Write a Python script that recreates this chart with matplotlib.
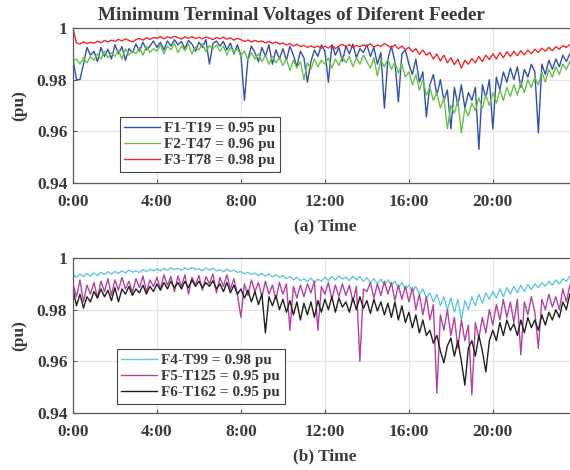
import numpy as np
import matplotlib
matplotlib.use('Agg')
import matplotlib.pyplot as plt

plt.rcParams['font.family'] = ['Liberation Serif', 'DejaVu Serif']
plt.rcParams['font.weight'] = 'bold'

# ── data: 10-min samples ───────────────────────────────────────────────────────
hours = np.arange(144) / 6.0

f1_t19 = [
    0.9880, 0.9800, 0.9800, 0.9860, 0.9925, 0.9895,
    0.9910, 0.9870, 0.9925, 0.9890, 0.9918, 0.9880,
    0.9935, 0.9900, 0.9928, 0.9875, 0.9920, 0.9905,
    0.9938, 0.9910, 0.9945, 0.9915, 0.9930, 0.9950,
    0.9925, 0.9945, 0.9915, 0.9950, 0.9930, 0.9955,
    0.9935, 0.9948, 0.9920, 0.9952, 0.9938, 0.9910,
    0.9945, 0.9925, 0.9955, 0.9860, 0.9940, 0.9950,
    0.9930, 0.9948, 0.9915, 0.9942, 0.9900, 0.9935,
    0.9895, 0.9720, 0.9880, 0.9930, 0.9905, 0.9870,
    0.9925, 0.9890, 0.9935, 0.9860, 0.9915, 0.9880,
    0.9920, 0.9875, 0.9930, 0.9895, 0.9850, 0.9910,
    0.9885, 0.9790, 0.9870, 0.9915, 0.9890, 0.9935,
    0.9910, 0.9790, 0.9935, 0.9895, 0.9925, 0.9870,
    0.9930, 0.9900, 0.9938, 0.9885, 0.9920, 0.9905,
    0.9935, 0.9890, 0.9925, 0.9860, 0.9905, 0.9690,
    0.9880, 0.9930, 0.9870, 0.9714, 0.9900, 0.9915,
    0.9860, 0.9820, 0.9880, 0.9790, 0.9830, 0.9656,
    0.9780, 0.9820, 0.9740, 0.9800, 0.9720, 0.9760,
    0.9610, 0.9770, 0.9700, 0.9780, 0.9690, 0.9750,
    0.9720, 0.9770, 0.9530, 0.9780, 0.9730, 0.9800,
    0.9610, 0.9810, 0.9760, 0.9830, 0.9790, 0.9845,
    0.9800, 0.9850, 0.9770, 0.9840, 0.9810, 0.9860,
    0.9830, 0.9594, 0.9860, 0.9820, 0.9875, 0.9840,
    0.9880, 0.9850, 0.9895, 0.9870, 0.9900, 0.9910,
]

f2_t47 = [
    0.9870, 0.9880, 0.9860, 0.9885, 0.9865, 0.9890,
    0.9875, 0.9900, 0.9880, 0.9910, 0.9885, 0.9905,
    0.9890, 0.9915, 0.9880, 0.9920, 0.9895, 0.9912,
    0.9900, 0.9925, 0.9895, 0.9930, 0.9905, 0.9920,
    0.9910, 0.9935, 0.9900, 0.9930, 0.9915, 0.9940,
    0.9905, 0.9930, 0.9912, 0.9938, 0.9900, 0.9928,
    0.9915, 0.9940, 0.9908, 0.9932, 0.9918, 0.9935,
    0.9910, 0.9930, 0.9895, 0.9925, 0.9905, 0.9920,
    0.9890, 0.9912, 0.9875, 0.9905, 0.9880, 0.9900,
    0.9870, 0.9895, 0.9860, 0.9890, 0.9865, 0.9885,
    0.9855, 0.9880, 0.9835, 0.9875, 0.9845, 0.9870,
    0.9800, 0.9865, 0.9840, 0.9880, 0.9850, 0.9875,
    0.9860, 0.9885, 0.9845, 0.9880, 0.9855, 0.9890,
    0.9865, 0.9890, 0.9850, 0.9885, 0.9860, 0.9895,
    0.9870, 0.9845, 0.9885, 0.9815, 0.9875, 0.9850,
    0.9880, 0.9840, 0.9870, 0.9825, 0.9860, 0.9810,
    0.9830, 0.9780, 0.9820, 0.9760, 0.9800, 0.9740,
    0.9770, 0.9720, 0.9750, 0.9690, 0.9730, 0.9610,
    0.9700, 0.9670, 0.9720, 0.9594, 0.9690, 0.9660,
    0.9710, 0.9680, 0.9730, 0.9690, 0.9740, 0.9700,
    0.9750, 0.9710, 0.9760, 0.9720, 0.9770, 0.9735,
    0.9780, 0.9740, 0.9790, 0.9750, 0.9800, 0.9770,
    0.9810, 0.9780, 0.9830, 0.9790, 0.9840, 0.9810,
    0.9850, 0.9820, 0.9860, 0.9840, 0.9870, 0.9880,
]

f3_t78 = [
    1.0000, 0.9942, 0.9938, 0.9947, 0.9940, 0.9945,
    0.9941, 0.9949, 0.9943, 0.9952, 0.9946, 0.9953,
    0.9948, 0.9956, 0.9950, 0.9958, 0.9952, 0.9946,
    0.9955, 0.9960, 0.9953, 0.9962, 0.9956, 0.9963,
    0.9960, 0.9967, 0.9958, 0.9966, 0.9961, 0.9968,
    0.9963, 0.9957, 0.9966, 0.9960, 0.9967, 0.9959,
    0.9964, 0.9958, 0.9965, 0.9961, 0.9955, 0.9963,
    0.9958, 0.9965, 0.9957, 0.9962, 0.9953, 0.9960,
    0.9955, 0.9948, 0.9954, 0.9946, 0.9952, 0.9947,
    0.9950, 0.9942, 0.9948, 0.9940, 0.9946, 0.9938,
    0.9942, 0.9934, 0.9940, 0.9930, 0.9937, 0.9928,
    0.9933, 0.9925, 0.9931, 0.9924, 0.9930, 0.9922,
    0.9930, 0.9922, 0.9934, 0.9920, 0.9931, 0.9937,
    0.9928, 0.9936, 0.9924, 0.9933, 0.9927, 0.9935,
    0.9930, 0.9939, 0.9926, 0.9934, 0.9928, 0.9940,
    0.9932, 0.9924, 0.9935, 0.9920, 0.9930, 0.9916,
    0.9925, 0.9908, 0.9920, 0.9898, 0.9915, 0.9895,
    0.9905, 0.9880, 0.9900, 0.9872, 0.9895, 0.9865,
    0.9885, 0.9858, 0.9880, 0.9845, 0.9875, 0.9860,
    0.9882, 0.9865, 0.9890, 0.9870, 0.9895, 0.9878,
    0.9900, 0.9880, 0.9905, 0.9885, 0.9908, 0.9890,
    0.9910, 0.9893, 0.9912, 0.9896, 0.9915, 0.9900,
    0.9918, 0.9905, 0.9922, 0.9910, 0.9925, 0.9912,
    0.9928, 0.9918, 0.9932, 0.9925, 0.9936, 0.9940,
]

f4_t99 = [
    0.9935, 0.9925, 0.9938, 0.9928, 0.9940, 0.9930,
    0.9942, 0.9932, 0.9945, 0.9935, 0.9947, 0.9938,
    0.9948, 0.9940, 0.9950, 0.9942, 0.9953, 0.9945,
    0.9950, 0.9944, 0.9955, 0.9947, 0.9957, 0.9950,
    0.9958, 0.9950, 0.9960, 0.9952, 0.9962, 0.9955,
    0.9960, 0.9953, 0.9962, 0.9955, 0.9963, 0.9956,
    0.9958, 0.9951, 0.9961, 0.9953, 0.9960, 0.9950,
    0.9955, 0.9947, 0.9957, 0.9948, 0.9953, 0.9944,
    0.9948, 0.9938, 0.9945, 0.9935, 0.9942, 0.9932,
    0.9940, 0.9930, 0.9938, 0.9927, 0.9935, 0.9925,
    0.9932, 0.9920, 0.9928, 0.9915, 0.9925, 0.9912,
    0.9920, 0.9908, 0.9922, 0.9905, 0.9918, 0.9910,
    0.9925, 0.9912, 0.9928, 0.9915, 0.9930, 0.9918,
    0.9926, 0.9912, 0.9930, 0.9915, 0.9928, 0.9910,
    0.9924, 0.9905, 0.9920, 0.9900, 0.9918, 0.9895,
    0.9915, 0.9895, 0.9910, 0.9885, 0.9905, 0.9880,
    0.9895, 0.9870, 0.9890, 0.9860, 0.9880, 0.9845,
    0.9865, 0.9830, 0.9860, 0.9815, 0.9850, 0.9800,
    0.9845, 0.9790, 0.9840, 0.9760, 0.9835, 0.9800,
    0.9850, 0.9815, 0.9860, 0.9825, 0.9865, 0.9840,
    0.9870, 0.9845, 0.9880, 0.9850, 0.9885, 0.9860,
    0.9890, 0.9865, 0.9895, 0.9870, 0.9898, 0.9878,
    0.9900, 0.9885, 0.9905, 0.9890, 0.9910, 0.9895,
    0.9915, 0.9900, 0.9920, 0.9910, 0.9930, 0.9935,
]

f5_t125 = [
    0.9900, 0.9850, 0.9915, 0.9830, 0.9895, 0.9860,
    0.9905, 0.9845, 0.9910, 0.9870, 0.9920, 0.9855,
    0.9915, 0.9875, 0.9925, 0.9880, 0.9910, 0.9865,
    0.9920, 0.9885, 0.9930, 0.9870, 0.9915, 0.9890,
    0.9925, 0.9880, 0.9935, 0.9895, 0.9928, 0.9870,
    0.9930, 0.9890, 0.9935, 0.9860, 0.9925, 0.9895,
    0.9932, 0.9875, 0.9928, 0.9900, 0.9938, 0.9865,
    0.9925, 0.9890, 0.9935, 0.9880, 0.9920, 0.9860,
    0.9770, 0.9900, 0.9855, 0.9915, 0.9870, 0.9905,
    0.9850, 0.9910, 0.9860, 0.9895, 0.9840, 0.9905,
    0.9860, 0.9900, 0.9720, 0.9890, 0.9845, 0.9895,
    0.9850, 0.9900, 0.9865, 0.9910, 0.9720, 0.9890,
    0.9860, 0.9905, 0.9840, 0.9895, 0.9850, 0.9900,
    0.9855, 0.9895, 0.9830, 0.9890, 0.9600, 0.9880,
    0.9870, 0.9905, 0.9845, 0.9900, 0.9855, 0.9910,
    0.9860, 0.9905, 0.9835, 0.9895, 0.9840, 0.9890,
    0.9830, 0.9885, 0.9800, 0.9860, 0.9780, 0.9850,
    0.9760, 0.9820, 0.9477, 0.9780, 0.9720, 0.9800,
    0.9700, 0.9770, 0.9650, 0.9760, 0.9680, 0.9740,
    0.9470, 0.9750, 0.9690, 0.9770, 0.9710, 0.9800,
    0.9740, 0.9820, 0.9760, 0.9840, 0.9770, 0.9830,
    0.9750, 0.9840, 0.9625, 0.9830, 0.9780, 0.9850,
    0.9790, 0.9650, 0.9840, 0.9800, 0.9860, 0.9810,
    0.9850, 0.9800, 0.9880, 0.9830, 0.9895, 0.9910,
]

f6_t162 = [
    0.9880, 0.9815, 0.9860, 0.9806, 0.9850, 0.9830,
    0.9870, 0.9845, 0.9880, 0.9850, 0.9875, 0.9835,
    0.9885, 0.9830, 0.9880, 0.9860, 0.9890, 0.9855,
    0.9880, 0.9865, 0.9895, 0.9860, 0.9890, 0.9870,
    0.9900, 0.9875, 0.9905, 0.9880, 0.9910, 0.9885,
    0.9905, 0.9880, 0.9910, 0.9885, 0.9915, 0.9890,
    0.9910, 0.9885, 0.9905, 0.9890, 0.9912, 0.9880,
    0.9900, 0.9870, 0.9905, 0.9865, 0.9895, 0.9860,
    0.9880, 0.9845, 0.9875, 0.9830, 0.9870, 0.9820,
    0.9860, 0.9710, 0.9850, 0.9815, 0.9855, 0.9800,
    0.9840, 0.9790, 0.9835, 0.9780, 0.9830, 0.9760,
    0.9825, 0.9780, 0.9830, 0.9770, 0.9835, 0.9790,
    0.9840, 0.9800, 0.9850, 0.9790, 0.9845, 0.9810,
    0.9830, 0.9790, 0.9845, 0.9800, 0.9850, 0.9805,
    0.9835, 0.9785, 0.9840, 0.9795, 0.9830, 0.9780,
    0.9825, 0.9770, 0.9830, 0.9760, 0.9815, 0.9750,
    0.9790, 0.9730, 0.9780, 0.9710, 0.9760, 0.9700,
    0.9720, 0.9670, 0.9700, 0.9640, 0.9594, 0.9660,
    0.9690, 0.9620, 0.9680, 0.9600, 0.9508, 0.9650,
    0.9680, 0.9620, 0.9700, 0.9640, 0.9559, 0.9680,
    0.9720, 0.9680, 0.9750, 0.9700, 0.9760, 0.9720,
    0.9745, 0.9700, 0.9760, 0.9710, 0.9770, 0.9730,
    0.9760, 0.9720, 0.9780, 0.9740, 0.9790, 0.9760,
    0.9800, 0.9770, 0.9830, 0.9800, 0.9860, 0.9880,
]

labels_a = ['F1-T19 = 0.95 pu', 'F2-T47 = 0.96 pu', 'F3-T78 = 0.98 pu']
labels_b = ['F4-T99 = 0.98 pu', 'F5-T125 = 0.95 pu', 'F6-T162 = 0.95 pu']
colors_a = ['#3352a6', '#6cbf4a', '#f0282a']
colors_b = ['#64c8da', '#b0449e', '#231f20']

xticks = [0, 4, 8, 12, 16, 20]
xticklabels = ['0:00', '4:00', '8:00', '12:00', '16:00', '20:00']
yticks = [0.94, 0.96, 0.98, 1.0]
yticklabels = ['0.94', '0.96', '0.98', '1']

TXT = '#3a3a3a'
AX = '#5a5a5a'

fig = plt.figure(figsize=(5.7, 4.7), dpi=100)
ax_a = fig.add_axes([0.128, 0.6106, 0.884, 0.3298])
ax_b = fig.add_axes([0.128, 0.1213, 0.884, 0.3298])


def style(ax, xlabel):
    ax.set_xlim(0, 24)
    ax.set_ylim(0.94, 1.0)
    ax.set_xticks(xticks)
    ax.set_xticklabels(xticklabels)
    ax.set_yticks(yticks)
    ax.set_yticklabels(yticklabels)
    ax.tick_params(direction='in', length=3, width=0.8, colors=AX,
                   labelcolor=TXT, labelsize=12.5)
    ax.tick_params(axis='x', pad=8)
    ax.tick_params(axis='y', pad=4)
    ax.grid(True, color='#e3e3e3', lw=0.8)
    ax.set_axisbelow(True)
    for sp in ax.spines.values():
        sp.set_color(AX)
        sp.set_linewidth(0.9)
    ax.set_xlabel(xlabel, fontsize=12.5, color=TXT, fontweight='bold', labelpad=6)
    ax.set_ylabel('(pu)', fontsize=12.5, color=TXT, fontweight='bold', labelpad=7)


for vals, lab, col in zip([f1_t19, f2_t47, f3_t78], labels_a, colors_a):
    ax_a.plot(hours, vals, color=col, lw=1.0, label=lab)
for vals, lab, col in zip([f4_t99, f5_t125, f6_t162], labels_b, colors_b):
    ax_b.plot(hours, vals, color=col, lw=1.0, label=lab)

style(ax_a, '(a) Time')
style(ax_b, '(b) Time')

ax_a.set_title('Minimum Terminal Voltages of Diferent Feeder', fontsize=13.8,
               fontweight='bold', color=TXT, pad=6, x=0.4345)

for ax, anchor in [(ax_a, (0.093, 0.071)), (ax_b, (0.087, 0.058))]:
    leg = ax.legend(loc='lower left', bbox_to_anchor=anchor, fontsize=11,
                    fancybox=False, framealpha=1, edgecolor='#444444',
                    handlelength=2.3, handletextpad=0.3, borderpad=0.3,
                    labelspacing=0.15, borderaxespad=0)
    leg.get_frame().set_linewidth(0.8)
    for t in leg.get_texts():
        t.set_color(TXT)
        t.set_fontweight('bold')

fig.savefig('out.png', dpi=100)
